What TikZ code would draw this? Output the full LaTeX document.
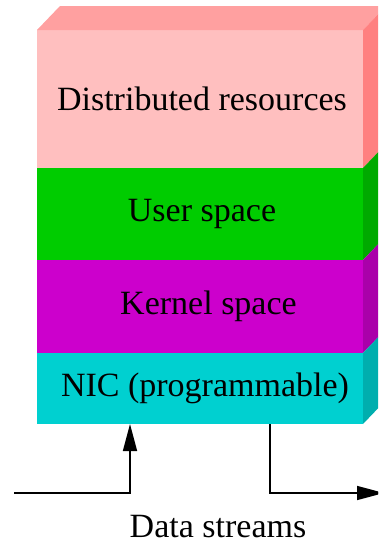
\documentclass[tikz,border=0pt]{standalone}
\usepackage{fontspec}
\setmainfont{Liberation Serif}
\usetikzlibrary{positioning, arrows.meta}

\definecolor{pinkfront}{HTML}{FFBFBF}
\definecolor{pinktop}{HTML}{FFA0A0}
\definecolor{pinkside}{HTML}{FF8080}
\definecolor{greenfront}{HTML}{00CC00}
\definecolor{greenside}{HTML}{00AA00}
\definecolor{magfront}{HTML}{CC00CC}
\definecolor{magside}{HTML}{AA00AA}
\definecolor{cyanfront}{HTML}{00D0D0}
\definecolor{cyanside}{HTML}{00AEAE}

\begin{document}
\begin{tikzpicture}[
  x=1pt, y=-1pt,
  layer/.style={rectangle, minimum width=326pt, inner sep=0pt, outer sep=0pt,
    font=\fontsize{34}{40}\selectfont},
  caption/.style={font=\fontsize{34}{40}\selectfont},
  flow/.style={draw=black, line width=1.5pt, -{Triangle[length=27pt, width=14pt]}}
]
  \clip (0,0) rectangle (378,546);

  % Stack of layers, front faces.
  \node[layer, fill=pinkfront, minimum height=138pt, anchor=north west] (dist) at (37,30) {\hspace*{4pt}Distributed resources};
  \node[layer, fill=greenfront, minimum height=92pt, below=0pt of dist] (user) {\hspace*{4pt}User space};
  \node[layer, fill=magfront, minimum height=93pt, below=0pt of user] (kernel) {\hspace*{17pt}Kernel space};
  \node[layer, fill=cyanfront, minimum height=71pt, below=0pt of kernel] (nic) {\hspace*{10pt}NIC (programmable)};

  % Top and side faces for the 3D look.
  \fill[pinktop] (dist.north west) -- ++(23,-24) -- ++(326,0) -- (dist.north east) -- cycle;
  \fill[pinkside] (dist.north east) -- ++(23,-24) -- ++(0,138) -- (dist.south east) -- cycle;
  \fill[greenside] (user.north east) -- ++(23,-24) -- ++(0,92) -- (user.south east) -- cycle;
  \fill[magside] (kernel.north east) -- ++(23,-24) -- ++(0,93) -- (kernel.south east) -- cycle;
  \fill[cyanside] (nic.north east) -- ++(23,-24) -- ++(0,71) -- (nic.south east) -- cycle;

  % Data streams in and out of the NIC.
  \coordinate (src) at (14,493);
  \coordinate (sink) at (384,493);
  \draw[flow] (src) -| ([xshift=-70pt]nic.south);
  \draw[flow] ([xshift=70pt]nic.south) |- (sink);
  \node[caption] (streams) at (218,527) {Data streams};
\end{tikzpicture}
\end{document}
